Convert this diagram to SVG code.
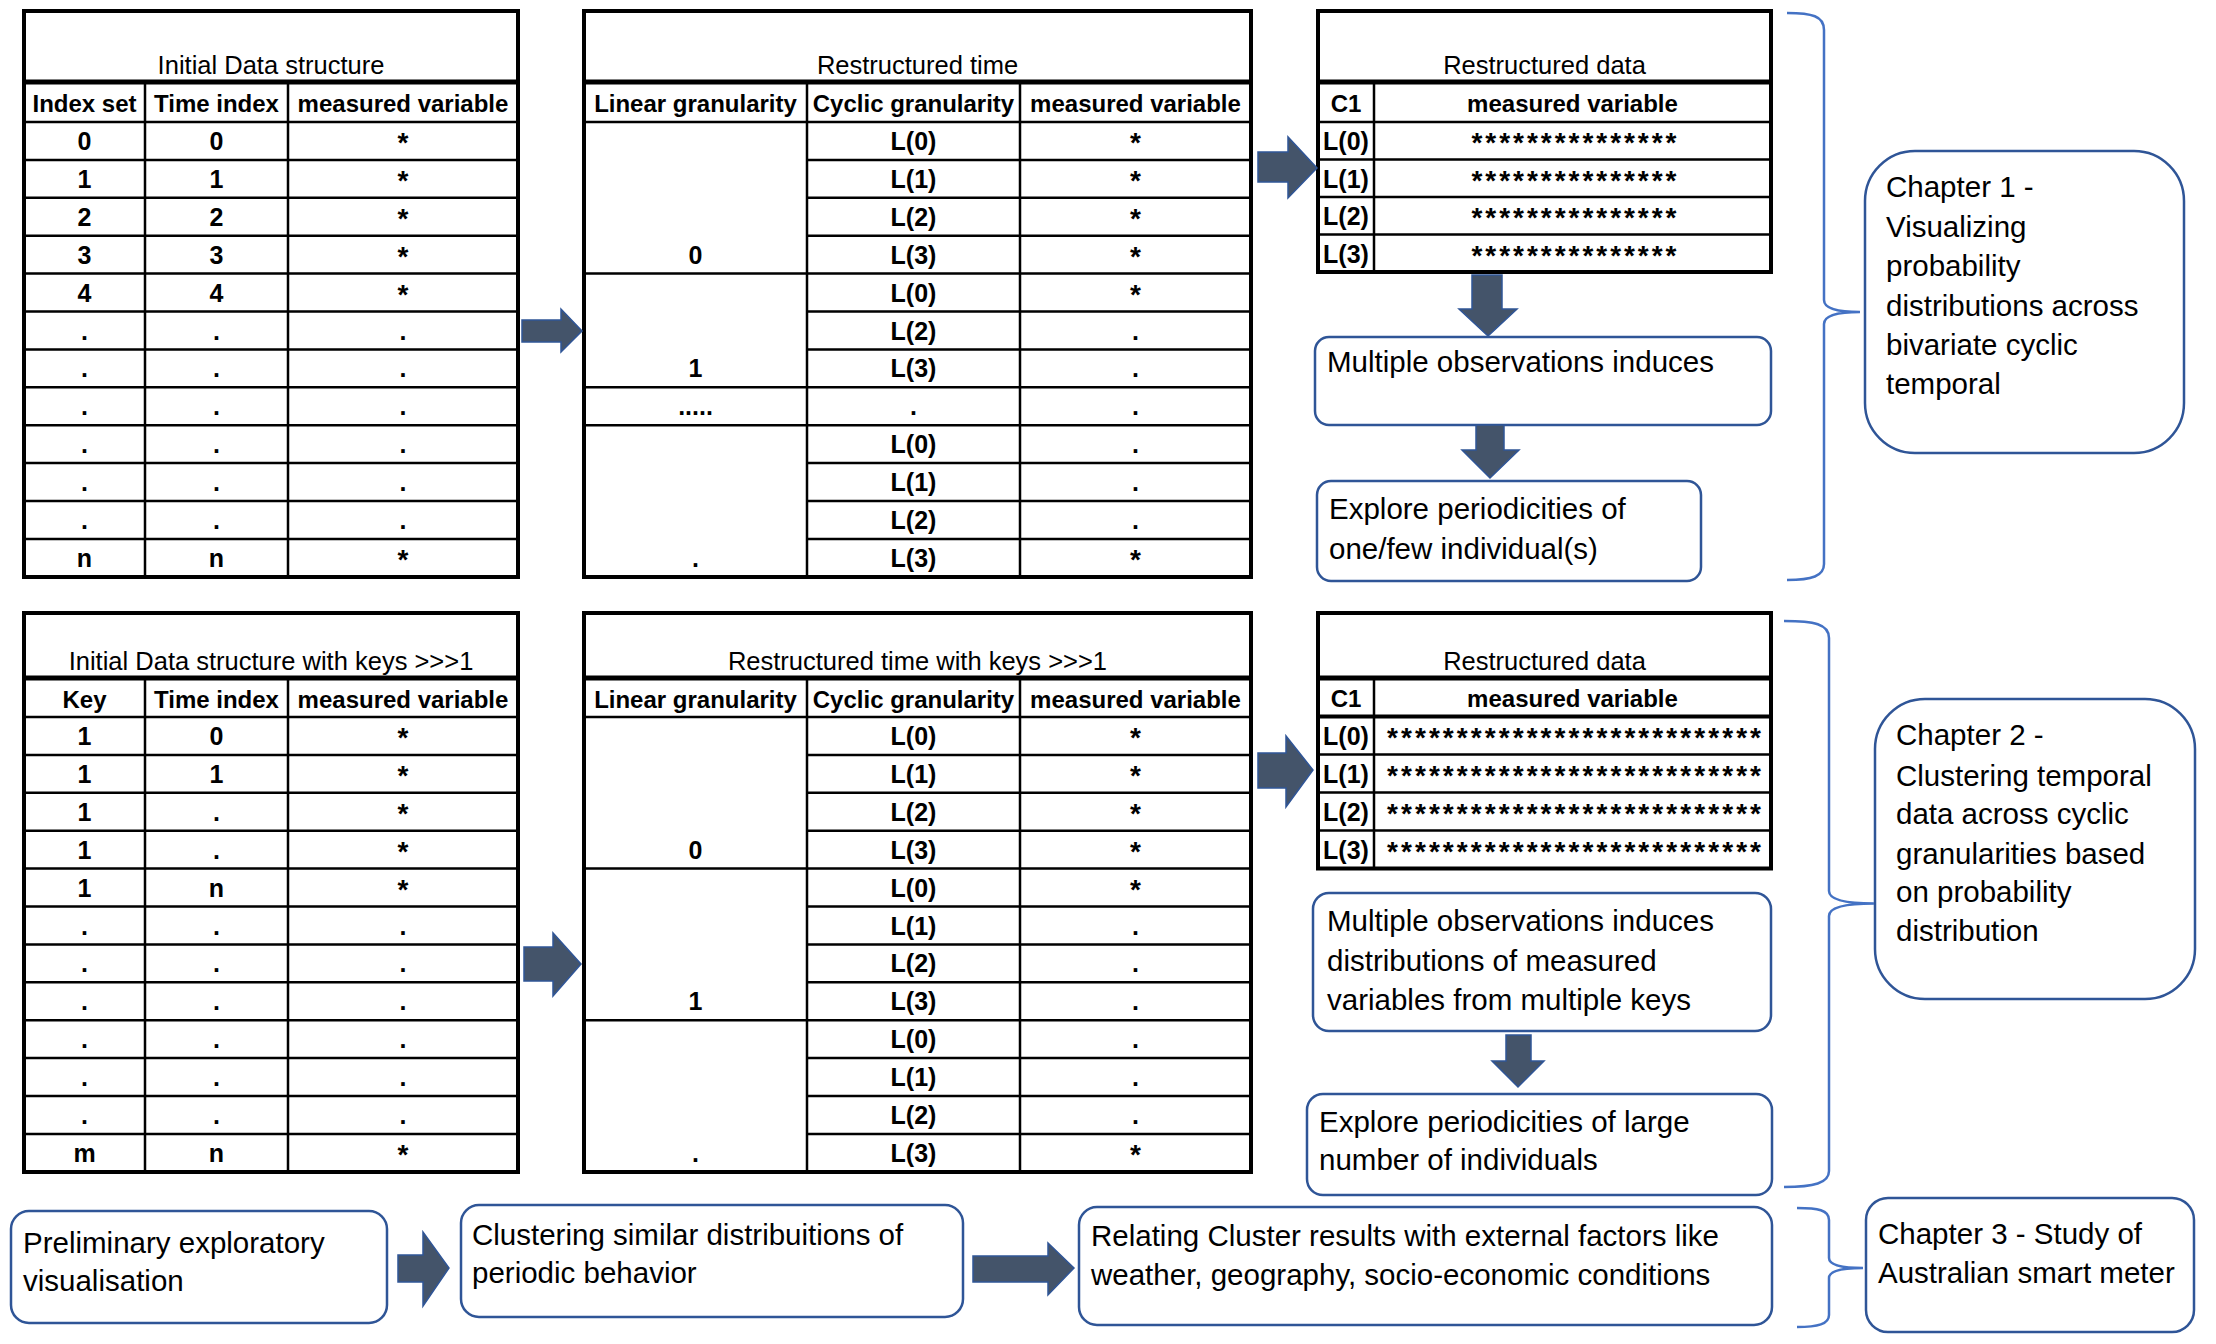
<svg xmlns="http://www.w3.org/2000/svg" width="2216" height="1344" viewBox="0 0 2216 1344">
<style>
text{font-family:"Liberation Sans",Arial,sans-serif;fill:#000}
.ti{font-size:25.5px;text-anchor:middle}
.hd{font-size:24px;font-weight:bold;text-anchor:middle}
.c{font-size:25px;font-weight:bold;text-anchor:middle}
.st{font-size:28px;font-weight:bold;text-anchor:middle}
.bx{font-size:29.5px}
.outer{fill:#fff;stroke:#000;stroke-width:4}
.g{stroke:#000;stroke-width:2.5;fill:none}
.tk{stroke:#000;stroke-width:5;fill:none}
.arr{fill:#44546A;stroke:#2F5597;stroke-width:1.5}
.box{fill:#fff;stroke:#2F5597;stroke-width:2.5}
.brace{fill:none;stroke:#4472C4;stroke-width:2.5}
</style>
<rect width="2216" height="1344" fill="#fff"/>

<!-- Table 1 -->
<g id="table-initial">
<rect class="outer" x="24" y="11" width="494" height="566"/>
<path class="tk" d="M24 82H518"/>
<path class="g" d="M24 122H518M24 159.9H518M24 197.8H518M24 235.7H518M24 273.6H518M24 311.5H518M24 349.4H518M24 387.3H518M24 425.2H518M24 463.1H518M24 501H518M24 538.9H518M145 82V577M288 82V577"/>
<text class="ti" x="271" y="74">Initial Data structure</text>
<text class="hd" x="84.5" y="112">Index set</text>
<text class="hd" x="216.5" y="112">Time index</text>
<text class="hd" x="403" y="112">measured variable</text>
<text class="c" x="84.5" y="150">0</text><text class="c" x="216.5" y="150">0</text><text class="st" x="403" y="152">*</text>
<text class="c" x="84.5" y="187.9">1</text><text class="c" x="216.5" y="187.9">1</text><text class="st" x="403" y="189.9">*</text>
<text class="c" x="84.5" y="225.8">2</text><text class="c" x="216.5" y="225.8">2</text><text class="st" x="403" y="227.8">*</text>
<text class="c" x="84.5" y="263.7">3</text><text class="c" x="216.5" y="263.7">3</text><text class="st" x="403" y="265.7">*</text>
<text class="c" x="84.5" y="301.6">4</text><text class="c" x="216.5" y="301.6">4</text><text class="st" x="403" y="303.6">*</text>
<text class="c" x="84.5" y="339.5">.</text><text class="c" x="216.5" y="339.5">.</text><text class="c" x="403" y="339.5">.</text>
<text class="c" x="84.5" y="377.4">.</text><text class="c" x="216.5" y="377.4">.</text><text class="c" x="403" y="377.4">.</text>
<text class="c" x="84.5" y="415.3">.</text><text class="c" x="216.5" y="415.3">.</text><text class="c" x="403" y="415.3">.</text>
<text class="c" x="84.5" y="453.2">.</text><text class="c" x="216.5" y="453.2">.</text><text class="c" x="403" y="453.2">.</text>
<text class="c" x="84.5" y="491.1">.</text><text class="c" x="216.5" y="491.1">.</text><text class="c" x="403" y="491.1">.</text>
<text class="c" x="84.5" y="529">.</text><text class="c" x="216.5" y="529">.</text><text class="c" x="403" y="529">.</text>
<text class="c" x="84.5" y="566.9">n</text><text class="c" x="216.5" y="566.9">n</text><text class="st" x="403" y="568.9">*</text>
</g>

<!-- Table 2 -->
<g id="table-restructured-time">
<rect class="outer" x="584" y="11" width="667" height="566"/>
<path class="tk" d="M584 82H1251"/>
<path class="g" d="M584 122H1251M807 159.9H1251M807 197.8H1251M807 235.7H1251M584 273.6H1251M807 311.5H1251M807 349.4H1251M584 387.3H1251M584 425.2H1251M807 463.1H1251M807 501H1251M807 538.9H1251M807 82V577M1020 82V577"/>
<text class="ti" x="917.5" y="74">Restructured time</text>
<text class="hd" x="695.5" y="112">Linear granularity</text>
<text class="hd" x="913.5" y="112">Cyclic granularity</text>
<text class="hd" x="1135.5" y="112">measured variable</text>
<text class="c" x="695.5" y="263.7">0</text>
<text class="c" x="695.5" y="377.4">1</text>
<text class="c" x="695.5" y="415.3">.....</text>
<text class="c" x="695.5" y="566.9">.</text>
<text class="c" x="913.5" y="150">L(0)</text><text class="st" x="1135.5" y="152">*</text>
<text class="c" x="913.5" y="187.9">L(1)</text><text class="st" x="1135.5" y="189.9">*</text>
<text class="c" x="913.5" y="225.8">L(2)</text><text class="st" x="1135.5" y="227.8">*</text>
<text class="c" x="913.5" y="263.7">L(3)</text><text class="st" x="1135.5" y="265.7">*</text>
<text class="c" x="913.5" y="301.6">L(0)</text><text class="st" x="1135.5" y="303.6">*</text>
<text class="c" x="913.5" y="339.5">L(2)</text><text class="c" x="1135.5" y="339.5">.</text>
<text class="c" x="913.5" y="377.4">L(3)</text><text class="c" x="1135.5" y="377.4">.</text>
<text class="c" x="913.5" y="415.3">.</text><text class="c" x="1135.5" y="415.3">.</text>
<text class="c" x="913.5" y="453.2">L(0)</text><text class="c" x="1135.5" y="453.2">.</text>
<text class="c" x="913.5" y="491.1">L(1)</text><text class="c" x="1135.5" y="491.1">.</text>
<text class="c" x="913.5" y="529">L(2)</text><text class="c" x="1135.5" y="529">.</text>
<text class="c" x="913.5" y="566.9">L(3)</text><text class="st" x="1135.5" y="568.9">*</text>
</g>

<!-- Table 3 -->
<g id="table-restructured-data-1">
<rect class="outer" x="1318" y="11" width="453" height="261"/>
<path class="tk" d="M1318 82H1771"/>
<path class="g" d="M1318 122H1771M1318 159.5H1771M1318 197H1771M1318 234.5H1771M1374 82V272"/>
<text class="ti" x="1544.5" y="74">Restructured data</text>
<text class="hd" x="1346" y="112">C1</text>
<text class="hd" x="1572.5" y="112">measured variable</text>
<text class="c" x="1346" y="150">L(0)</text><text class="st" x="1574" y="152" textLength="205" lengthAdjust="spacing">***************</text>
<text class="c" x="1346" y="187.5">L(1)</text><text class="st" x="1574" y="189.5" textLength="205" lengthAdjust="spacing">***************</text>
<text class="c" x="1346" y="225">L(2)</text><text class="st" x="1574" y="227" textLength="205" lengthAdjust="spacing">***************</text>
<text class="c" x="1346" y="262.5">L(3)</text><text class="st" x="1574" y="264.5" textLength="205" lengthAdjust="spacing">***************</text>
</g>

<!-- Table 4 -->
<g id="table-initial-keys">
<rect class="outer" x="24" y="613" width="494" height="559"/>
<path class="tk" d="M24 678H518"/>
<path class="g" d="M24 717H518M24 754.9H518M24 792.8H518M24 830.7H518M24 868.6H518M24 906.5H518M24 944.4H518M24 982.3H518M24 1020.2H518M24 1058.1H518M24 1096H518M24 1133.9H518M145 678V1172M288 678V1172"/>
<text class="ti" x="271" y="670">Initial Data structure with keys &gt;&gt;&gt;1</text>
<text class="hd" x="84.5" y="708">Key</text>
<text class="hd" x="216.5" y="708">Time index</text>
<text class="hd" x="403" y="708">measured variable</text>
<text class="c" x="84.5" y="745">1</text><text class="c" x="216.5" y="745">0</text><text class="st" x="403" y="747">*</text>
<text class="c" x="84.5" y="782.9">1</text><text class="c" x="216.5" y="782.9">1</text><text class="st" x="403" y="784.9">*</text>
<text class="c" x="84.5" y="820.8">1</text><text class="c" x="216.5" y="820.8">.</text><text class="st" x="403" y="822.8">*</text>
<text class="c" x="84.5" y="858.7">1</text><text class="c" x="216.5" y="858.7">.</text><text class="st" x="403" y="860.7">*</text>
<text class="c" x="84.5" y="896.6">1</text><text class="c" x="216.5" y="896.6">n</text><text class="st" x="403" y="898.6">*</text>
<text class="c" x="84.5" y="934.5">.</text><text class="c" x="216.5" y="934.5">.</text><text class="c" x="403" y="934.5">.</text>
<text class="c" x="84.5" y="972.4">.</text><text class="c" x="216.5" y="972.4">.</text><text class="c" x="403" y="972.4">.</text>
<text class="c" x="84.5" y="1010.3">.</text><text class="c" x="216.5" y="1010.3">.</text><text class="c" x="403" y="1010.3">.</text>
<text class="c" x="84.5" y="1048.2">.</text><text class="c" x="216.5" y="1048.2">.</text><text class="c" x="403" y="1048.2">.</text>
<text class="c" x="84.5" y="1086.1">.</text><text class="c" x="216.5" y="1086.1">.</text><text class="c" x="403" y="1086.1">.</text>
<text class="c" x="84.5" y="1124">.</text><text class="c" x="216.5" y="1124">.</text><text class="c" x="403" y="1124">.</text>
<text class="c" x="84.5" y="1161.9">m</text><text class="c" x="216.5" y="1161.9">n</text><text class="st" x="403" y="1163.9">*</text>
</g>

<!-- Table 5 -->
<g id="table-restructured-time-keys">
<rect class="outer" x="584" y="613" width="667" height="559"/>
<path class="tk" d="M584 678H1251"/>
<path class="g" d="M584 717H1251M807 754.9H1251M807 792.8H1251M807 830.7H1251M584 868.6H1251M807 906.5H1251M807 944.4H1251M807 982.3H1251M584 1020.2H1251M807 1058.1H1251M807 1096H1251M807 1133.9H1251M807 678V1172M1020 678V1172"/>
<text class="ti" x="917.5" y="670">Restructured time with keys &gt;&gt;&gt;1</text>
<text class="hd" x="695.5" y="708">Linear granularity</text>
<text class="hd" x="913.5" y="708">Cyclic granularity</text>
<text class="hd" x="1135.5" y="708">measured variable</text>
<text class="c" x="695.5" y="858.7">0</text>
<text class="c" x="695.5" y="1010.3">1</text>
<text class="c" x="695.5" y="1161.9">.</text>
<text class="c" x="913.5" y="745">L(0)</text><text class="st" x="1135.5" y="747">*</text>
<text class="c" x="913.5" y="782.9">L(1)</text><text class="st" x="1135.5" y="784.9">*</text>
<text class="c" x="913.5" y="820.8">L(2)</text><text class="st" x="1135.5" y="822.8">*</text>
<text class="c" x="913.5" y="858.7">L(3)</text><text class="st" x="1135.5" y="860.7">*</text>
<text class="c" x="913.5" y="896.6">L(0)</text><text class="st" x="1135.5" y="898.6">*</text>
<text class="c" x="913.5" y="934.5">L(1)</text><text class="c" x="1135.5" y="934.5">.</text>
<text class="c" x="913.5" y="972.4">L(2)</text><text class="c" x="1135.5" y="972.4">.</text>
<text class="c" x="913.5" y="1010.3">L(3)</text><text class="c" x="1135.5" y="1010.3">.</text>
<text class="c" x="913.5" y="1048.2">L(0)</text><text class="c" x="1135.5" y="1048.2">.</text>
<text class="c" x="913.5" y="1086.1">L(1)</text><text class="c" x="1135.5" y="1086.1">.</text>
<text class="c" x="913.5" y="1124">L(2)</text><text class="c" x="1135.5" y="1124">.</text>
<text class="c" x="913.5" y="1161.9">L(3)</text><text class="st" x="1135.5" y="1163.9">*</text>
</g>

<!-- Table 6 -->
<g id="table-restructured-data-2">
<rect class="outer" x="1318" y="613" width="453" height="255.5"/>
<path class="tk" d="M1318 678H1771"/>
<path class="g" d="M1318 754.5H1771M1318 792.5H1771M1318 830.5H1771M1374 678V868.5"/>
<path d="M1318 716.5H1771" stroke="#000" stroke-width="4"/>
<text class="ti" x="1544.5" y="670">Restructured data</text>
<text class="hd" x="1346" y="707">C1</text>
<text class="hd" x="1572.5" y="707">measured variable</text>
<text class="c" x="1346" y="744.5">L(0)</text><text class="st" x="1574" y="746.5" textLength="374" lengthAdjust="spacing">***************************</text>
<text class="c" x="1346" y="782.5">L(1)</text><text class="st" x="1574" y="784.5" textLength="374" lengthAdjust="spacing">***************************</text>
<text class="c" x="1346" y="820.5">L(2)</text><text class="st" x="1574" y="822.5" textLength="374" lengthAdjust="spacing">***************************</text>
<text class="c" x="1346" y="858.5">L(3)</text><text class="st" x="1574" y="860.5" textLength="374" lengthAdjust="spacing">***************************</text>
</g>

<!-- Text boxes -->
<g id="box-multiple-obs-1">
<rect class="box" x="1315" y="337" width="456" height="88" rx="14"/>
<text class="bx" x="1327" y="372">Multiple observations induces</text>
</g>
<g id="box-explore-few">
<rect class="box" x="1317" y="481" width="384" height="100" rx="14"/>
<text class="bx" x="1329" y="519">Explore periodicities of</text>
<text class="bx" x="1329" y="559">one/few individual(s)</text>
</g>
<g id="box-chapter-1">
<rect class="box" x="1865" y="151" width="319" height="302" rx="50"/>
<text class="bx" x="1886" y="197">Chapter 1 -</text>
<text class="bx" x="1886" y="237">Visualizing</text>
<text class="bx" x="1886" y="276">probability</text>
<text class="bx" x="1886" y="315.5">distributions across</text>
<text class="bx" x="1886" y="354.5">bivariate cyclic</text>
<text class="bx" x="1886" y="394">temporal</text>
</g>
<g id="box-multiple-obs-2">
<rect class="box" x="1313" y="893" width="458" height="138" rx="16"/>
<text class="bx" x="1327" y="931">Multiple observations induces</text>
<text class="bx" x="1327" y="971">distributions of measured</text>
<text class="bx" x="1327" y="1010">variables from multiple keys</text>
</g>
<g id="box-explore-large">
<rect class="box" x="1307" y="1094" width="465" height="101" rx="16"/>
<text class="bx" x="1319" y="1132">Explore periodicities of large</text>
<text class="bx" x="1319" y="1170">number of individuals</text>
</g>
<g id="box-chapter-2">
<rect class="box" x="1875" y="699" width="320" height="300" rx="50"/>
<text class="bx" x="1896" y="745">Chapter 2 -</text>
<text class="bx" x="1896" y="785.5">Clustering temporal</text>
<text class="bx" x="1896" y="824">data across cyclic</text>
<text class="bx" x="1896" y="864">granularities based</text>
<text class="bx" x="1896" y="902">on probability</text>
<text class="bx" x="1896" y="941">distribution</text>
</g>
<g id="box-preliminary">
<rect class="box" x="11" y="1211" width="376" height="112" rx="18"/>
<text class="bx" x="23" y="1253">Preliminary exploratory</text>
<text class="bx" x="23" y="1291">visualisation</text>
</g>
<g id="box-clustering">
<rect class="box" x="461" y="1205" width="502" height="112" rx="18"/>
<text class="bx" x="472" y="1245">Clustering similar distribuitions of</text>
<text class="bx" x="472" y="1283">periodic behavior</text>
</g>
<g id="box-relating">
<rect class="box" x="1079" y="1207" width="693" height="118" rx="18"/>
<text class="bx" x="1091" y="1246">Relating Cluster results with external factors like</text>
<text class="bx" x="1091" y="1285">weather, geography, socio-economic conditions</text>
</g>
<g id="box-chapter-3">
<rect class="box" x="1866" y="1198" width="328" height="134" rx="22"/>
<text class="bx" x="1878" y="1244">Chapter 3 - Study of</text>
<text class="bx" x="1878" y="1283">Australian smart meter</text>
</g>

<!-- Connectors -->
<g id="connectors">
<polygon class="arr" points="522,320 561,320 561,309 582,331 561,352 561,342 522,342"/>
<polygon class="arr" points="1258,152 1288,152 1288,137 1317,168 1288,198 1288,182 1258,182"/>
<polygon class="arr" points="524,947 553,947 553,933 581,964 553,996 553,981 524,981"/>
<polygon class="arr" points="1258,753 1286,753 1286,736 1313,770 1286,807 1286,788 1258,788"/>
<polygon class="arr" points="1472,275 1502,275 1502,309 1517,309 1488,336 1459,309 1472,309"/>
<polygon class="arr" points="1476,425 1504,425 1504,450 1519,450 1490,478 1462,450 1476,450"/>
<polygon class="arr" points="1506,1035 1531,1035 1531,1061 1544,1061 1518,1087 1492,1061 1506,1061"/>
<polygon class="arr" points="398,1255 423,1255 423,1232 449,1268 423,1306 423,1282 398,1282"/>
<polygon class="arr" points="973,1256 1048,1256 1048,1243 1074,1268 1048,1295 1048,1282 973,1282"/>
<path class="brace" d="M1787 13C1812 13 1824 16 1824 30L1824 300C1824 309 1838 312 1860 312C1838 312 1824 315 1824 324L1824 564C1824 576 1812 580 1787 580"/>
<path class="brace" d="M1784 621C1814 621 1829 624 1829 638L1829 891C1829 900 1848 903.5 1874 903.5C1848 903.5 1829 907 1829 916L1829 1171C1829 1183 1814 1187 1784 1187"/>
<path class="brace" d="M1797 1208C1818 1208 1829 1210 1829 1220L1829 1258C1829 1265 1843 1268 1863 1268C1843 1268 1829 1271 1829 1278L1829 1315C1829 1324 1818 1327 1797 1327"/>
</g>
</svg>
